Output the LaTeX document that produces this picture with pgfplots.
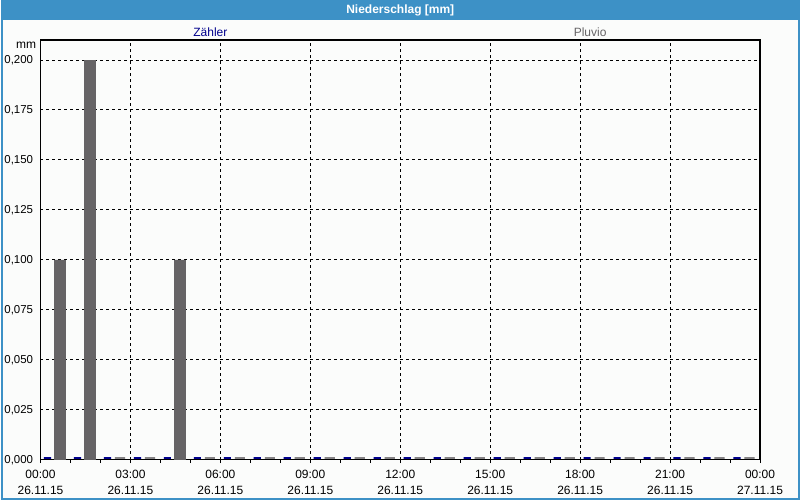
\documentclass[border=0pt]{standalone}
\usepackage{pgfplots}
\pgfplotsset{compat=1.18}
\usepackage{fontspec}
\setmainfont{Liberation Sans}
\definecolor{titlebar}{RGB}{61,145,198}
\definecolor{bgc}{RGB}{251,252,251}
\definecolor{zaehler}{RGB}{0,0,140}
\definecolor{pluvio}{RGB}{102,100,102}
\begin{document}
\begin{tikzpicture}
\fill[bgc] (0,0) rectangle (600pt,375pt);
\fill[titlebar] (0,360pt) rectangle (600pt,375pt);
\draw[titlebar,line width=1.5pt] (0.75pt,0.75pt) rectangle (599.25pt,374.25pt);
\node[text=white,font=\fontsize{9}{10}\selectfont\bfseries] at (300pt,367.5pt) {Niederschlag [mm]};
\node[text=zaehler,font=\fontsize{9}{10}\selectfont] at (157.5pt,351pt) {Zähler};
\node[text=pluvio,font=\fontsize{9}{10}\selectfont] at (442.5pt,351pt) {Pluvio};
\begin{axis}[
  at={(30pt,30pt)}, anchor=south west,
  scale only axis, width=540pt, height=315pt,
  xmin=0, xmax=24, ymin=0, ymax=0.21,
  xtick={0,3,...,24},
  xticklabels={{00:00\\26.11.15},{03:00\\26.11.15},{06:00\\26.11.15},{09:00\\26.11.15},{12:00\\26.11.15},{15:00\\26.11.15},{18:00\\26.11.15},{21:00\\26.11.15},{00:00\\27.11.15}},
  minor xtick={1,...,23},
  ytick={0,0.025,...,0.2001},
  xticklabel style={align=center, font=\fontsize{9}{12.5}\selectfont, yshift=-1.5pt},
  yticklabel style={font=\fontsize{8.6}{10}\selectfont, xshift=0.5pt},
  /pgf/number format/assume math mode=true,
  y tick label style={/pgf/number format/.cd, fixed, fixed zerofill, precision=3, use comma},
  scaled y ticks=false,
  tick align=outside,
  xtick pos=bottom,
  major tick length=2.5pt, minor tick length=2.5pt,
  ytick style={draw=none},
  xmajorgrids, ymajorgrids,
  major grid style={black, dash pattern=on 2.25pt off 2.25pt, line width=0.75pt},
  axis line style={black, line width=0.9pt},
  tick style={black, line width=0.75pt},
  clip=false,
]
\addplot[ybar, bar width=0.24, bar shift=0pt, fill=zaehler, draw=zaehler, line width=1.1pt, yshift=1.2pt] coordinates {
(0.233,0) (1.233,0) (2.233,0) (3.233,0) (4.233,0) (5.233,0) (6.233,0) (7.233,0) (8.233,0) (9.233,0) (10.233,0) (11.233,0)
(12.233,0) (13.233,0) (14.233,0) (15.233,0) (16.233,0) (17.233,0) (18.233,0) (19.233,0) (20.233,0) (21.233,0) (22.233,0) (23.233,0)};
\addplot[ybar, bar width=0.35, bar shift=0pt, fill=pluvio, draw=pluvio, line width=0.5pt] coordinates {
(0.65,0.1) (1.65,0.2) (4.65,0.1)};
\addplot[ybar, bar width=0.34, bar shift=0pt, fill=pluvio!80, draw=pluvio!80, line width=1.1pt, yshift=1.2pt] coordinates {
(2.65,0) (3.65,0) (5.65,0) (6.65,0) (7.65,0) (8.65,0) (9.65,0) (10.65,0) (11.65,0)
(12.65,0) (13.65,0) (14.65,0) (15.65,0) (16.65,0) (17.65,0) (18.65,0) (19.65,0) (20.65,0) (21.65,0) (22.65,0) (23.65,0)};
\node[anchor=north east, font=\fontsize{9}{10}\selectfont, inner sep=0pt] at ([xshift=-3pt,yshift=-1.5pt]rel axis cs:0,1) {mm};
\end{axis}
\end{tikzpicture}
\end{document}
